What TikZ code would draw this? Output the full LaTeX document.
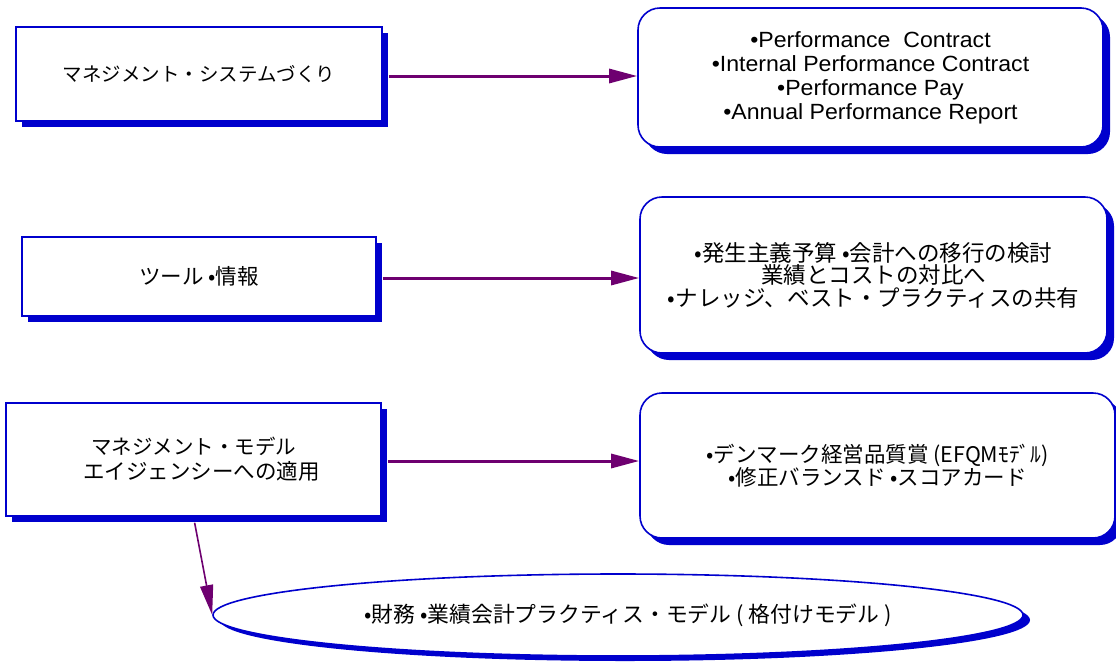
\documentclass[tikz,border=0pt]{standalone}
\usepackage{fontspec}
\setmainfont{Liberation Sans}[FakeStretch=1.05]
\newfontfamily\jp{Noto Sans CJK JP}
\usetikzlibrary{shadows,arrows.meta,shapes.geometric}
\definecolor{boxblue}{RGB}{0,0,205}
\definecolor{linkpurple}{RGB}{110,0,112}
\begin{document}
\begin{tikzpicture}[x=1pt,y=-1pt,
  sqbox/.style={draw=boxblue,line width=1.6pt,fill=white,inner sep=0pt,
    drop shadow={shadow xshift=6pt,shadow yshift=-6pt,fill=boxblue,opacity=1},
    align=center,font=\jp},
  rbox/.style={sqbox,rounded corners=22pt,
    drop shadow={shadow xshift=7pt,shadow yshift=-7pt,fill=boxblue,opacity=1}},
  ellbox/.style={ellipse,draw=boxblue,line width=1.6pt,fill=white,inner sep=0pt,
    drop shadow={shadow xshift=7pt,shadow yshift=-5pt,fill=boxblue,opacity=1},
    font=\jp\fontsize{21.8}{24}\selectfont},
  link/.style={draw=linkpurple,line width=3pt,-{Triangle[length=28pt,width=14pt]}},
  thinlink/.style={draw=linkpurple,line width=1.6pt,-{Triangle[length=30pt,width=13pt]}}
]
\useasboundingbox[fill=white] (0,0) rectangle (1116,662);

\node[sqbox,minimum width=366pt,minimum height=94pt,font=\jp\fontsize{19.5}{22}\selectfont]
  (b1) at (199,74) {マネジメント・システムづくり};
\node[sqbox,minimum width=354pt,minimum height=79pt,font=\jp\fontsize{21.5}{22}\selectfont]
  (b2) at (199,276.5) {ツール •情報};
\node[sqbox,minimum width=375pt,minimum height=113pt,font=\jp\fontsize{20.5}{25}\selectfont]
  (b3) at (193.5,459.5) {マネジメント・モデル\\\hspace*{16pt}{\fontsize{21.5}{25}\selectfont エイジェンシーへの適用}};

\node[rbox,minimum width=465pt,minimum height=139pt,font=\fontsize{22}{24}\selectfont]
  (r1) at (870.5,77.5) {•Performance~~Contract\\•Internal Performance Contract\\•Performance Pay\\•Annual Performance Report};
\node[rbox,minimum width=467pt,minimum height=156pt,font=\jp\fontsize{22.5}{22.5}\selectfont]
  (r2) at (873.5,275) {•発生主義予算 •会計への移行の検討\\業績とコストの対比へ\\•ナレッジ、ベスト・プラクティスの共有};
\node[rbox,minimum width=475pt,minimum height=145pt,font=\jp\fontsize{21.5}{21.5}\selectfont]
  (r3) at (877.5,465.5) {\raisebox{-3pt}{\parbox{400pt}{\centering •デンマーク経営品質賞 (EFQMﾓﾃﾞﾙ)\\•修正バランスド •スコアカード}}};

\node[ellbox,minimum width=810pt,minimum height=82pt]
  (el) at (618,615) {\hspace*{20pt}•財務 •業績会計プラクティス・モデル ( 格付けモデル )};

\draw[link,shorten <=6pt] (b1.east |- 0,76) -- (r1.west |- 0,76);
\draw[link,shorten <=6pt] (b2.east |- 0,278) -- (r2.west |- 0,278);
\draw[link,shorten <=6pt] (b3.east |- 0,461) -- (r3.west |- 0,461);
\draw[thinlink,shorten <=6pt] (b3.south) -- (el.west);
\end{tikzpicture}
\end{document}
